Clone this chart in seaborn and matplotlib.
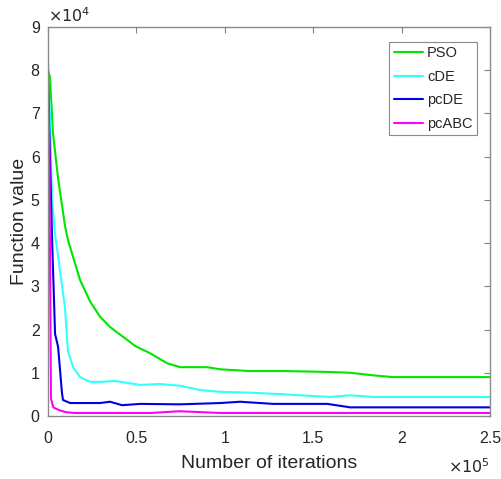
import numpy as np
import pandas as pd
import matplotlib
matplotlib.use("Agg")
import matplotlib.pyplot as plt
import seaborn as sns
from matplotlib.ticker import FuncFormatter

# --- dados ---
pso_x = [0, 1100, 2800, 5700, 9600, 11300, 18100, 23800, 29400, 35100, 49300, 57800, 67400,
         74700, 90000, 97400, 114000, 133000, 158000, 171000, 184000, 195000, 250000]
pso_y = [80000, 78500, 65500, 55000, 44000, 40700, 31500, 26500, 23000, 20600, 16200, 14500, 12200,
         11300, 11300, 10800, 10400, 10400, 10200, 10000, 9400, 9000, 9000]

cde_x = [0, 1100, 2300, 4000, 5700, 9600, 11300, 14200, 18100, 23800, 29400,
         37900, 52100, 63400, 74700, 86100, 97400, 114400, 129700, 159700, 171000, 184000, 250000]
cde_y = [80000, 70000, 50000, 42000, 37000, 25000, 15000, 11300, 9000, 7900, 7900,
         8100, 7200, 7400, 7000, 6000, 5600, 5400, 5100, 4400, 4800, 4400, 4400]

pcde_x = [0, 1100, 2300, 4000, 5700, 7900, 8500, 12500, 29400, 35100, 41900,
          52100, 74700, 97400, 108700, 127400, 158000, 171000, 250000]
pcde_y = [78000, 60000, 41000, 19000, 16000, 5300, 3700, 3000, 3000, 3300, 2500,
          2800, 2700, 3000, 3300, 2800, 2800, 2000, 2000]

pcabc_x = [0, 800, 1400, 1700, 3000, 6000, 10000, 15000, 57800, 74700, 97400, 250000]
pcabc_y = [82000, 60000, 20000, 4000, 2000, 1400, 900, 700, 700, 1100, 700, 700]

algoritmos = ["PSO", "cDE", "pcDE", "pcABC"]
cores = ["#00e600", "#33ffff", "#0000e6", "#ff00ff"]


def montar_df():
    partes = []
    for nome, xs, ys in zip(algoritmos,
                            [pso_x, cde_x, pcde_x, pcabc_x],
                            [pso_y, cde_y, pcde_y, pcabc_y]):
        partes.append(pd.DataFrame({"iter": xs, "valor": ys, "alg": nome}))
    return pd.concat(partes, ignore_index=True)


def main():
    df = montar_df()

    sns.set_style("white")
    plt.rcParams["font.family"] = ["Liberation Sans", "DejaVu Sans"]

    fig = plt.figure(figsize=(5.02, 4.79), dpi=100)
    ax = fig.add_axes([48 / 502, 1 - 416 / 479, 442 / 502, 389 / 479])

    sns.lineplot(data=df, x="iter", y="valor", hue="alg", hue_order=algoritmos,
                 palette=dict(zip(algoritmos, cores)), sort=False,
                 estimator=None, linewidth=1.5, ax=ax)

    ax.set_xlim(0, 250000)
    ax.set_ylim(0, 90000)
    ax.set_xticks(np.arange(0, 250001, 50000))
    ax.set_yticks(np.arange(0, 90001, 10000))
    ax.xaxis.set_major_formatter(FuncFormatter(lambda v, p: "%g" % (v / 1e5)))
    ax.yaxis.set_major_formatter(FuncFormatter(lambda v, p: "%g" % (v / 1e4)))

    ax.tick_params(direction="in", length=4, width=0.8, color="#808080",
                   top=True, right=True, labelsize=11.5, labelcolor="#262626", pad=6)
    ax.tick_params(axis="x", pad=11)
    for s in ax.spines.values():
        s.set_color("#8a8a8a")
        s.set_linewidth(1.0)

    ax.set_xlabel("Number of iterations", fontsize=14, color="#262626", labelpad=6)
    ax.set_ylabel("Function value", fontsize=14, color="#262626", labelpad=2)

    # multiplicadores estilo MATLAB
    ax.text(0.0, 1.005, r"$\times10^{4}$", transform=ax.transAxes,
            fontsize=11.5, color="#262626", ha="left", va="bottom")
    ax.text(1.0, -0.105, r"$\times10^{5}$", transform=ax.transAxes,
            fontsize=11.5, color="#262626", ha="right", va="top")

    leg = ax.legend(loc="upper right", bbox_to_anchor=(0.9706, 0.9614),
                    borderaxespad=0, fontsize=10.5, handlelength=2.0,
                    handletextpad=0.3, borderpad=0.3, labelspacing=0.65,
                    fancybox=False, framealpha=1, edgecolor="#8a8a8a", title=None)
    leg.get_frame().set_linewidth(0.8)
    for h in leg.get_lines():
        h.set_linewidth(1.5)

    fig.savefig("out.png", dpi=100)


if __name__ == "__main__":
    main()
